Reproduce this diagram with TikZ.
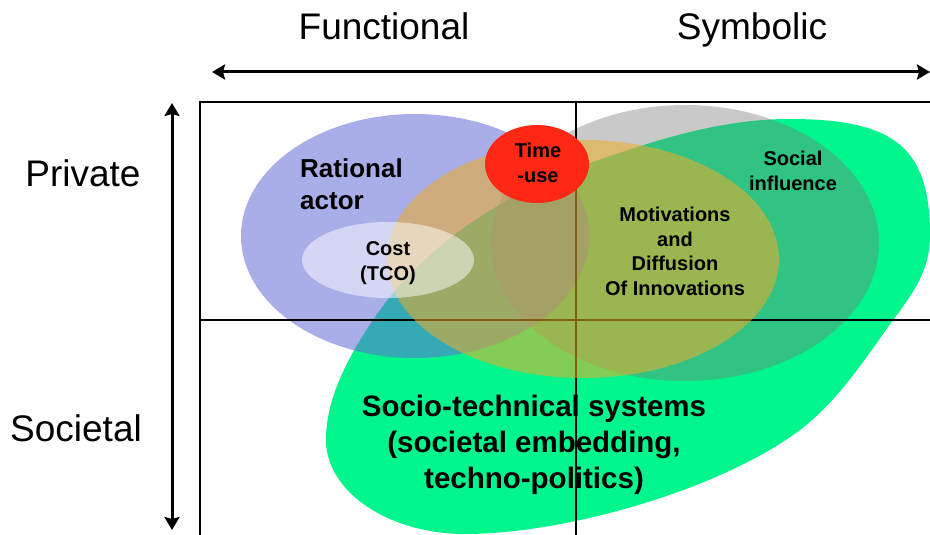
\documentclass[tikz,border=0pt]{standalone}
\usepackage{fontspec}
\setmainfont{Liberation Sans}
\usetikzlibrary{arrows.meta}

\definecolor{techgreen}{RGB}{0,245,140}
\definecolor{socialgray}{RGB}{120,120,120}
\definecolor{rationalblue}{RGB}{98,107,213}
\definecolor{motivorange}{RGB}{240,172,40}
\definecolor{timered}{RGB}{255,40,20}

\begin{document}
\begin{tikzpicture}[x=1pt,y=-1pt,
  axis/.style={black, line width=3pt, {Stealth[length=13pt,width=15pt,inset=2pt]}-{Stealth[length=13pt,width=15pt,inset=2pt]}},
  grid line/.style={black, line width=1.2pt},
  big label/.style={font=\fontsize{37}{44}\selectfont, inner sep=0pt},
  blob label/.style={font=\bfseries\fontsize{20}{24.4}\selectfont, align=center, inner sep=0pt}]
\useasboundingbox (0,0) rectangle (930,535);
\clip (0,0) rectangle (930,535);

\fill[techgreen] (790,119) .. controls (895,119) and (930,148) .. (930,235)
  .. controls (930,270) and (914,292) .. (893,320)
  .. controls (865,359) and (838,401) .. (800,430)
  .. controls (720,490) and (565,534) .. (465,534)
  .. controls (389,534) and (326,492) .. (326,440)
  .. controls (326,397) and (349,356) .. (373,320)
  .. controls (423,245) and (505,193) .. (590,163)
  .. controls (656,140) and (720,119) .. (790,119) -- cycle;
\fill[socialgray, opacity=.4] (685,243) ellipse [x radius=194, y radius=138];
\fill[rationalblue, opacity=.55] (415,236) ellipse [x radius=174, y radius=122];

\coordinate (boxnw) at (200,102);
\coordinate (boxne) at (930,102);
\coordinate (boxsw) at (200,535);
\coordinate (midn) at (576,102);
\coordinate (mids) at (576,535);
\coordinate (midw) at (200,320);
\coordinate (mide) at (930,320);
\draw[grid line] (boxsw) -- (boxnw) -- (boxne);
\draw[grid line] (midn) -- (mids);
\draw[grid line] (midw) -- (mide);

\fill[motivorange, opacity=.55] (583,259) ellipse [x radius=196, y radius=119];
\fill[white, opacity=.5] (388,260) ellipse [x radius=86, y radius=38];
\fill[timered] (537,164) ellipse [x radius=52, y radius=39];

\node[big label, anchor=base] (functional) at (384,40) {Functional};
\node[big label, anchor=base] (symbolic) at (752,40) {Symbolic};
\node[big label, anchor=base] (private) at (83,186) {Private};
\node[big label, anchor=base] (societal) at (76,441) {Societal};

\coordinate (funcend) at (212,72);
\coordinate (symbend) at (930,72);
\coordinate (privend) at (172,103);
\coordinate (socend) at (172,530);
\draw[axis] (funcend) -- (symbend);
\draw[axis] (privend) -- (socend);

\node[anchor=base west, align=left, inner sep=0pt, font=\bfseries\fontsize{26}{32}\selectfont] (rational) at (300,209) {Rational\\actor};
\node[blob label, anchor=base] (cost) at (388,280) {Cost\\(TCO)};
\node[blob label, anchor=base] (timeuse) at (538,182) {Time\\-use};
\node[blob label, anchor=base] (social) at (793,190) {Social\\influence};
\node[blob label, anchor=base] (motivations) at (675,295) {Motivations\\and\\Diffusion\\Of Innovations};
\node[anchor=base, align=center, inner sep=0pt, font=\bfseries\fontsize{29.5}{36}\selectfont] (sociotech) at (534,488) {Socio-technical systems\\(societal embedding,\\techno-politics)};
\end{tikzpicture}
\end{document}
